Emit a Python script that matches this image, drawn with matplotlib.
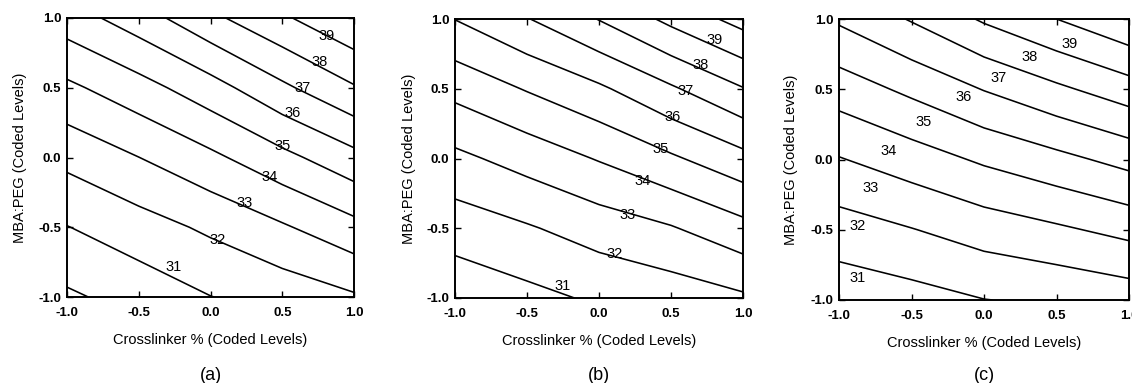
import numpy as np
import matplotlib
matplotlib.use("Agg")
import matplotlib.pyplot as plt

plt.rcParams['font.family'] = ['Liberation Sans', 'DejaVu Sans']
plt.rcParams['axes.unicode_minus'] = False

# coded levels of the grid (x = Crosslinker %, y = MBA:PEG)
x_levels = [-1.0, -0.5, 0.0, 0.5, 1.0]
y_levels = [-1.0, -0.5, 0.0, 0.5, 1.0]

# response; rows follow y_levels, columns follow x_levels
z_a = [
    [29.84, 30.38, 30.98, 31.39, 31.88],
    [30.97, 31.57, 32.18, 32.88, 33.69],
    [32.28, 32.99, 33.78, 34.71, 35.69],
    [33.79, 34.61, 35.59, 36.80, 37.91],
    [35.52, 36.53, 37.77, 38.85, 39.90],
]
z_b = [
    [30.30, 30.71, 31.15, 31.44, 31.84],
    [31.45, 31.90, 32.45, 32.92, 33.68],
    [32.76, 33.39, 34.07, 34.85, 35.69],
    [34.31, 35.07, 35.83, 36.86, 37.95],
    [36.02, 36.95, 38.04, 39.26, 40.38],
]
z_c = [
    [30.35, 30.61, 30.98, 31.15, 31.43],
    [31.54, 31.96, 32.45, 32.84, 33.29],
    [32.94, 33.51, 34.15, 34.71, 35.33],
    [34.47, 35.22, 36.04, 36.80, 37.55],
    [36.15, 37.08, 38.13, 39.00, 39.88],
]

contour_levels = [30, 31, 32, 33, 34, 35, 36, 37, 38, 39, 40]
labelled_levels = [31, 32, 33, 34, 35, 36, 37, 38, 39]

tick_values = [-1.0, -0.5, 0.0, 0.5, 1.0]
tick_labels = ["-1.0", "-0.5", "0.0", "0.5", "1.0"]
x_title = "Crosslinker % (Coded Levels)"
y_title = "MBA:PEG (Coded Levels)"
panel_names = ["(a)", "(b)", "(c)"]

# label placement (layout only)
label_pos_a = [(-0.26, -0.785), (0.05, -0.59), (0.24, -0.326), (0.415, -0.14),
               (0.505, 0.082), (0.575, 0.319), (0.645, 0.498), (0.763, 0.685),
               (0.812, 0.871)]
label_pos_b = [(-0.252, -0.914), (0.106, -0.685), (0.2, -0.405), (0.303, -0.161),
               (0.43, 0.068), (0.51, 0.30), (0.604, 0.486), (0.708, 0.67),
               (0.801, 0.85)]
label_pos_c = [(-0.87, -0.84), (-0.87, -0.47), (-0.78, -0.2), (-0.658, 0.06),
               (-0.415, 0.27), (-0.14, 0.445), (0.10, 0.58), (0.316, 0.73),
               (0.59, 0.82)]

W, H = 1132, 383
fig = plt.figure(figsize=(W / 100, H / 100), dpi=100)

boxes = [(67, 354, 18, 297), (455, 743, 19, 298), (839, 1129, 19, 300)]
ylabel_x = [20, 409, 791]
data = [z_a, z_b, z_c]
label_positions = [label_pos_a, label_pos_b, label_pos_c]

X, Y = np.meshgrid(x_levels, y_levels)

for i, (l, r, t, b) in enumerate(boxes):
    ax = fig.add_axes([l / W, (H - b) / H, (r - l) / W, (b - t) / H])
    Z = np.array(data[i])
    ax.contour(X, Y, Z, levels=contour_levels, colors='black', linewidths=1.15)
    for lev, (px, py) in zip(labelled_levels, label_positions[i]):
        ax.text(px, py, str(lev), fontsize=10.5, ha='center', va='center')
    ax.set_xlim(-1, 1)
    ax.set_ylim(-1, 1)
    ax.set_xticks(tick_values)
    ax.set_xticklabels(tick_labels, fontweight='bold')
    ax.set_yticks(tick_values)
    ax.set_yticklabels(tick_labels, fontweight='bold')
    ax.tick_params(direction='in', length=4, width=1.0, top=True, right=True,
                   labelsize=9.5, pad=4)
    ax.tick_params(axis='x', pad=7)
    for s in ax.spines.values():
        s.set_linewidth(1.4)
    ax.set_xlabel(x_title, fontsize=10.5, labelpad=10)
    fig.text(ylabel_x[i] / W, (H - (t + b) / 2) / H, y_title, rotation=90,
             fontsize=10.5, ha='center', va='center')
    fig.text(((l + r) / 2) / W, (H - 375) / H, panel_names[i], fontsize=13,
             ha='center', va='center')

fig.savefig("out.png", dpi=100)
